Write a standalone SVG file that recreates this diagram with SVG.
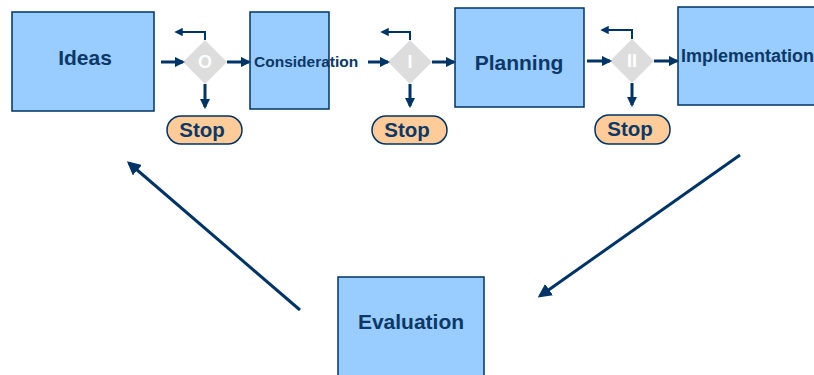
<svg xmlns="http://www.w3.org/2000/svg" width="814" height="375" viewBox="0 0 814 375">
<style>
.box{fill:#99CCFF;stroke:#003366;stroke-width:1.5}
.lbl{font-family:"Liberation Sans",Arial,sans-serif;font-weight:bold;fill:#0B3866;text-anchor:middle}
.lbl.st{text-anchor:start}
.dia{fill:#DDDDDD}
.dtxt{font-family:"Liberation Sans",Arial,sans-serif;font-weight:bold;fill:#FFFFFF;font-size:18px;text-anchor:middle}
.pill{fill:#FFCC99;stroke:#003366;stroke-width:1.5}
.c{stroke:#003366;stroke-width:3;fill:none}
.t{stroke:#003366;stroke-width:2;fill:none}
</style>
<defs>
<marker id="ah" viewBox="0 0 10 10" refX="8" refY="5" markerWidth="3.5" markerHeight="3.5" orient="auto" markerUnits="strokeWidth">
<path d="M0,0 L10,5 L0,10 z" fill="#003366"/>
</marker>
<marker id="ahb" viewBox="0 0 10 10" refX="8" refY="5" markerWidth="4.6" markerHeight="4.6" orient="auto" markerUnits="strokeWidth">
<path d="M0,0 L10,5 L0,10 z" fill="#003366"/>
</marker>
<marker id="ah2" viewBox="0 0 10 10" refX="8" refY="5" markerWidth="4.2" markerHeight="4.2" orient="auto" markerUnits="strokeWidth">
<path d="M0,0 L10,5 L0,10 z" fill="#003366"/>
</marker>
</defs>
<rect width="814" height="375" fill="#FFFFFF"/>
<g id="ideas"><rect class="box" x="12" y="12" width="142" height="99"/><text class="lbl" x="85" y="65" font-size="21">Ideas</text></g>
<g id="consideration"><rect class="box" x="250" y="12" width="79" height="97"/><text class="lbl st" x="254" y="67" font-size="15.5">Consideration</text></g>
<g id="planning"><rect class="box" x="455" y="8" width="129" height="99"/><text class="lbl" x="519" y="70" font-size="21">Planning</text></g>
<g id="implementation"><rect class="box" x="678" y="7" width="140" height="98"/><text class="lbl st" x="681" y="62" font-size="18">Implementation</text></g>
<g id="evaluation"><rect class="box" x="338" y="277" width="146" height="102"/><text class="lbl" x="411" y="329" font-size="21">Evaluation</text></g>
<g id="gate-o"><polygon class="dia" points="205,40 227,62 205,84 183,62"/><text class="dtxt" x="205" y="68">O</text></g>
<g id="gate-i"><polygon class="dia" points="410,40 432,62 410,84 388,62"/><text class="dtxt" x="410" y="68">I</text></g>
<g id="gate-ii"><polygon class="dia" points="632,39 654,61 632,83 610,61"/><text class="dtxt" x="632" y="67">II</text></g>
<g id="stop1"><rect class="pill" x="167" y="116" width="75" height="28" rx="14"/><text class="lbl" x="202" y="137" font-size="20.5">Stop</text></g>
<g id="stop2"><rect class="pill" x="372" y="116" width="75" height="28" rx="14"/><text class="lbl" x="407" y="137" font-size="20.5">Stop</text></g>
<g id="stop3"><rect class="pill" x="595" y="115" width="75" height="29" rx="14"/><text class="lbl" x="630" y="136" font-size="20.5">Stop</text></g>
<g id="connectors">
<line class="c" x1="161" y1="62" x2="183" y2="62" marker-end="url(#ah)"/>
<line class="c" x1="227" y1="62" x2="249" y2="62" marker-end="url(#ah)"/>
<line class="c" x1="205" y1="84" x2="205" y2="107" marker-end="url(#ah)"/>
<polyline class="t" points="205,40 205,32 176,32" marker-end="url(#ah2)"/>
<line class="c" x1="368" y1="62" x2="388" y2="62" marker-end="url(#ah)"/>
<line class="c" x1="432" y1="62" x2="454" y2="62" marker-end="url(#ah)"/>
<line class="c" x1="410" y1="84" x2="410" y2="106" marker-end="url(#ah)"/>
<polyline class="t" points="410,40 410,32 382,32" marker-end="url(#ah2)"/>
<line class="c" x1="587" y1="61" x2="610" y2="61" marker-end="url(#ah)"/>
<line class="c" x1="654" y1="61" x2="677" y2="61" marker-end="url(#ah)"/>
<line class="c" x1="632" y1="83" x2="632" y2="105" marker-end="url(#ah)"/>
<polyline class="t" points="632,39 632,30 602,30" marker-end="url(#ah2)"/>
<line class="c" x1="300" y1="310" x2="129" y2="163" marker-end="url(#ahb)"/>
<line class="c" x1="740" y1="155" x2="540" y2="296" marker-end="url(#ahb)"/>
</g>
</svg>
